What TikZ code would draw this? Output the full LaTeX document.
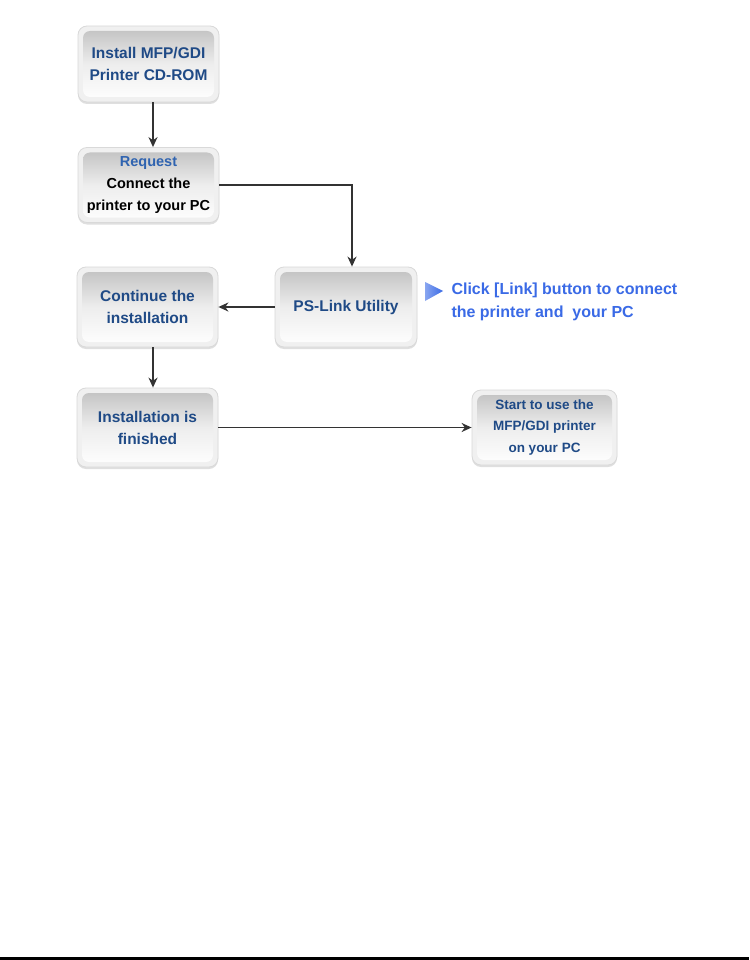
\documentclass[tikz,border=0pt]{standalone}
\usepackage{fontspec}
\setmainfont{Liberation Sans}
\usetikzlibrary{arrows.meta,shadows,calc}
\definecolor{boxtext}{HTML}{1F4A86}
\definecolor{reqblue}{HTML}{2F63B0}
\definecolor{noteblue}{HTML}{3A6AE6}
\tikzset{
  fbox/.style={rectangle, rounded corners=9pt, draw=gray!30, fill=gray!12,
    line width=0.8pt, align=center, text=boxtext,
    font=\fontsize{15.5}{22}\selectfont\bfseries,
    drop shadow={shadow xshift=0pt, shadow yshift=-2pt, opacity=0.25, fill=gray},
    path picture={\shade[top color=gray!50, bottom color=white, middle color=gray!14, rounded corners=7pt]
      ([shift={(5pt,-5pt)}]path picture bounding box.north west) rectangle
      ([shift={(-5pt,5pt)}]path picture bounding box.south east);}},
  arr/.style={line width=1.7pt, draw=black!80, -{Stealth[length=10pt,width=9pt]}},
}
\begin{document}
\begin{tikzpicture}[x=1pt,y=-1pt]
\useasboundingbox[fill=white] (0,0) rectangle (749,960);
\fill[black] (0,957) rectangle (749,960);

\node[fbox, minimum width=141pt, minimum height=76pt] (b1) at (148.5,64) {Install MFP/GDI\\Printer CD-ROM};
\node[fbox, minimum width=141pt, minimum height=75pt, font=\fontsize{14.5}{22}\selectfont\bfseries] (b2) at (148.5,185)
  {{\color{reqblue}Request}\\{\color{black}Connect the}\\{\color{black}printer to your PC}};
\node[fbox, minimum width=141pt, minimum height=80pt] (b3) at (147.5,307) {Continue the\\installation};
\node[fbox, minimum width=142pt, minimum height=80pt] (b4) at (346,307) {PS-Link Utility};
\node[fbox, minimum width=141pt, minimum height=79pt] (b5) at (147.5,427.5) {Installation is\\finished};
\node[fbox, minimum width=145pt, minimum height=75pt,
  font=\fontsize{13.5}{21.5}\selectfont\bfseries] (b6) at (544.5,427.5) {Start to use the\\MFP/GDI printer\\on your PC};

\coordinate (c1) at (153,0);
\coordinate (c2) at (352,0);
\draw[arr] (b1.south -| c1) -- (b2.north -| c1);
\draw[arr] (b2.east) -| (b4.north -| c2);
\draw[arr] (b4.west) -- (b3.east);
\draw[arr] (b3.south -| c1) -- (b5.north -| c1);
\draw[arr] (b5.east) -- (b6.west);

\shade[left color=noteblue!60, right color=noteblue] (425,282) -- (443,291) -- (425,301) -- cycle;
\node[anchor=west, align=left, text=noteblue, font=\fontsize{16}{23}\selectfont\bfseries] (note) at (448,301.5)
  {Click [Link] button to connect\\the printer and~ your PC};
\end{tikzpicture}
\end{document}
